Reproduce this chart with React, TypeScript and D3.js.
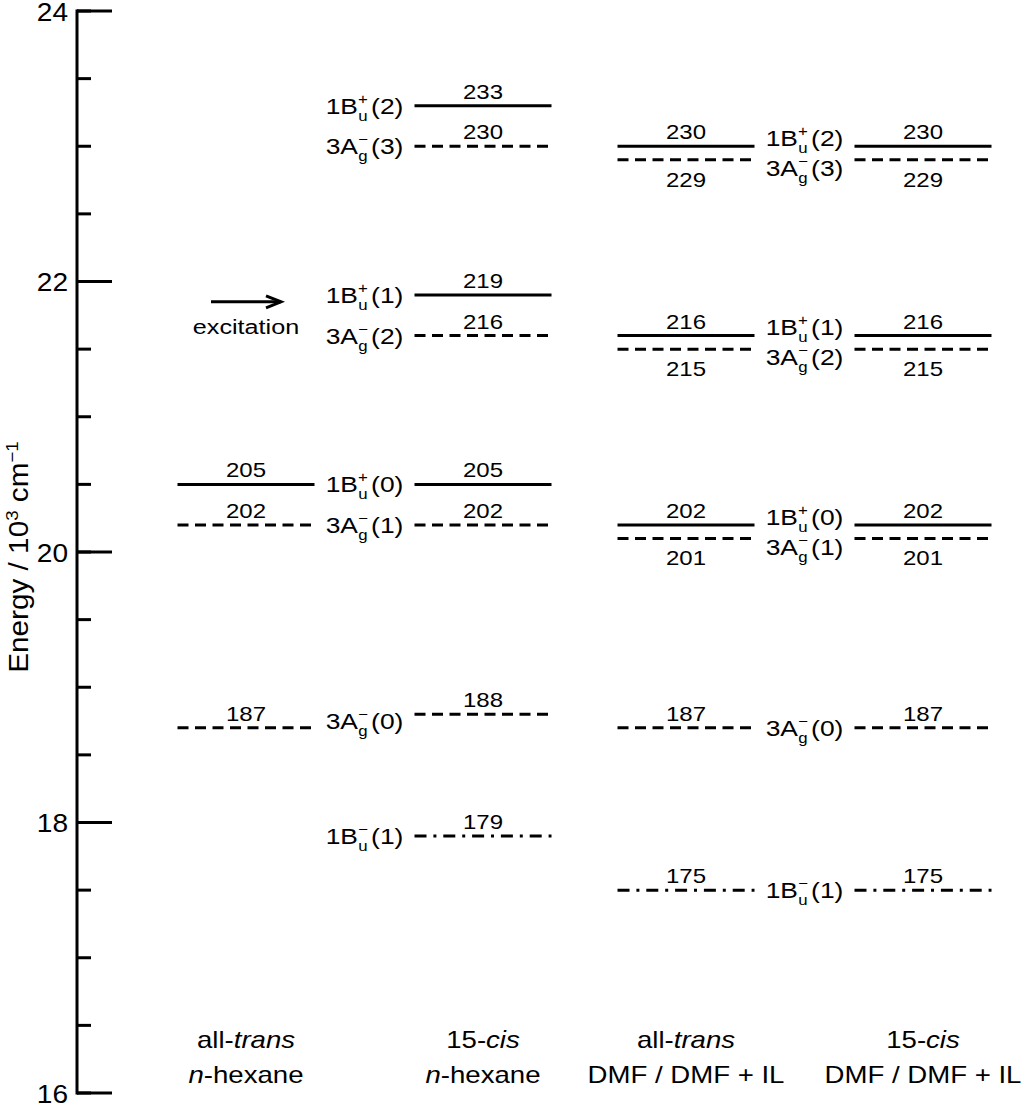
import * as d3 from "d3";

// Level energies, in units of 100 cm^-1 (the numbers printed on the levels)
const allTransHexane = [
  { term: "1Bu+", n: 0, value: 205 },
  { term: "3Ag-", n: 1, value: 202 },
  { term: "3Ag-", n: 0, value: 187 },
];
const cisHexane = [
  { term: "1Bu+", n: 2, value: 233 },
  { term: "3Ag-", n: 3, value: 230 },
  { term: "1Bu+", n: 1, value: 219 },
  { term: "3Ag-", n: 2, value: 216 },
  { term: "1Bu+", n: 0, value: 205 },
  { term: "3Ag-", n: 1, value: 202 },
  { term: "3Ag-", n: 0, value: 188 },
  { term: "1Bu-", n: 1, value: 179 },
];
const allTransDmf = [
  { term: "1Bu+", n: 2, value: 230 },
  { term: "3Ag-", n: 3, value: 229 },
  { term: "1Bu+", n: 1, value: 216 },
  { term: "3Ag-", n: 2, value: 215 },
  { term: "1Bu+", n: 0, value: 202 },
  { term: "3Ag-", n: 1, value: 201 },
  { term: "3Ag-", n: 0, value: 187 },
  { term: "1Bu-", n: 1, value: 175 },
];
const cisDmf = [
  { term: "1Bu+", n: 2, value: 230 },
  { term: "3Ag-", n: 3, value: 229 },
  { term: "1Bu+", n: 1, value: 216 },
  { term: "3Ag-", n: 2, value: 215 },
  { term: "1Bu+", n: 0, value: 202 },
  { term: "3Ag-", n: 1, value: 201 },
  { term: "3Ag-", n: 0, value: 187 },
  { term: "1Bu-", n: 1, value: 175 },
];

const columns = [allTransHexane, cisHexane, allTransDmf, cisDmf];

// [text, italic] pieces
const categoryTop: [string, boolean][][] = [
  [["all-", false], ["trans", true]],
  [["15-", false], ["cis", true]],
  [["all-", false], ["trans", true]],
  [["15-", false], ["cis", true]],
];
const categoryBottom: [string, boolean][][] = [
  [["n", true], ["-hexane", false]],
  [["n", true], ["-hexane", false]],
  [["DMF / DMF + IL", false]],
  [["DMF / DMF + IL", false]],
];

// state labels sit in the gap left of the right-hand column
const labelGaps = [
  [0, 1],
  [2, 3],
];

const excitationEnergy = 21.85;

const terms: Record<string, { num: string; sym: string; sub: string; sup: string; dash: string }> = {
  "1Bu+": { num: "1", sym: "B", sub: "u", sup: "+", dash: "none" },
  "3Ag-": { num: "3", sym: "A", sub: "g", sup: "\u2212", dash: "11 6.5" },
  "1Bu-": { num: "1", sym: "B", sub: "u", sup: "\u2212", dash: "12 6.9 3 6.9" },
};

const FONT = "'Liberation Sans', Arial, Helvetica, sans-serif";
const SX = 1.2;

const width = 1024;
const height = 1104;
const axisX = 77;
const columnCenters = [246, 483, 686, 923];
const halfLen = 68.5;

const y = d3.scaleLinear().domain([16, 24]).range([1093, 11]);
const colX = d3.scaleOrdinal<number, number>().domain([0, 1, 2, 3]).range(columnCenters);

function Pieces({ parts }: { parts: [string, boolean][] }) {
  return (
    <>
      {parts.map(([t, it], i) => (
        <tspan key={i} fontStyle={it ? "italic" : "normal"}>
          {t}
        </tspan>
      ))}
    </>
  );
}

function StateLabel({ x, yy, term, n }: { x: number; yy: number; term: string; n: number }) {
  const t = terms[term];
  return (
    <text
      transform={`translate(${x},${yy + 8}) scale(${SX},1)`}
      textAnchor="middle"
      fontSize={22}
      fontFamily={FONT}
    >
      {t.num}
      {t.sym}
      <tspan fontSize={14} dy={-10}>
        {t.sup}
      </tspan>
      <tspan fontSize={14} dx={-8} dy={17}>
        {t.sub}
      </tspan>
      <tspan dx={3} dy={-7}>
        ({n})
      </tspan>
    </text>
  );
}

export default function App() {
  const majorTicks = y.ticks(4);
  const minorTicks = y.ticks(16);

  const gapLabels = labelGaps.flatMap(([l, r]) => {
    const lx = colX(l) + halfLen;
    const rx = colX(r) - halfLen;
    const items = columns[r].map((d) => {
      const match = columns[l].find((e) => e.term === d.term && e.n === d.n);
      const ys = [y(d.value / 10)];
      if (match) ys.push(y(match.value / 10));
      return { term: d.term, n: d.n, x: (lx + rx) / 2, yy: d3.mean(ys) as number };
    });
    items.sort((a, b) => a.yy - b.yy);
    for (let i = 1; i < items.length; i++) {
      const a = items[i - 1];
      const b = items[i];
      if (b.yy - a.yy < 30) {
        const mid = (a.yy + b.yy) / 2;
        a.yy = mid - 15;
        b.yy = mid + 15;
      }
    }
    return items;
  });

  const ay = y(excitationEnergy);
  const ac = colX(0);

  return (
    <div style={{ position: "absolute", left: 0, top: 0 }}>
      <svg width={width} height={height} viewBox={`0 0 ${width} ${height}`} style={{ display: "block", background: "#fff" }}>
        {/* axis */}
        <line x1={axisX} x2={axisX} y1={y(24) - 1.5} y2={y(16) + 1.5} stroke="#000" strokeWidth={3} />
        {minorTicks.map((t) => (
          <line key={`m${t}`} x1={axisX} x2={axisX + 14} y1={y(t)} y2={y(t)} stroke="#000" strokeWidth={3} />
        ))}
        {majorTicks.map((t) => (
          <g key={`M${t}`}>
            <line x1={axisX} x2={axisX + 35} y1={y(t)} y2={y(t)} stroke="#000" strokeWidth={3} />
            <text
              transform={`translate(68,${y(t) + 9.5}) scale(1.08,1)`}
              textAnchor="end"
              fontSize={26}
              fontFamily={FONT}
            >
              {t}
            </text>
          </g>
        ))}
        <text
          transform={`translate(28,557) rotate(-90) scale(1.1,1)`}
          textAnchor="middle"
          fontSize={27}
          fontFamily={FONT}
        >
          Energy / 10
          <tspan fontSize={17} dy={-10}>
            3
          </tspan>
          <tspan dy={10}> cm</tspan>
          <tspan fontSize={17} dy={-10}>
            {"\u22121"}
          </tspan>
        </text>

        {/* levels */}
        {columns.map((col, ci) =>
          col.map((d, i) => {
            const cx = colX(ci);
            const ly = y(d.value / 10);
            const below = col.some((e) => e.value > d.value && e.value - d.value <= 1);
            return (
              <g key={`${ci}-${i}`}>
                <line
                  x1={cx - halfLen}
                  x2={cx + halfLen}
                  y1={ly}
                  y2={ly}
                  stroke="#000"
                  strokeWidth={3}
                  strokeDasharray={terms[d.term].dash}
                />
                <text
                  transform={`translate(${cx},${below ? ly + 27 : ly - 7}) scale(${SX},1)`}
                  textAnchor="middle"
                  fontSize={20}
                  fontFamily={FONT}
                >
                  {d.value}
                </text>
              </g>
            );
          })
        )}

        {gapLabels.map((g, i) => (
          <StateLabel key={`s${i}`} x={g.x} yy={g.yy} term={g.term} n={g.n} />
        ))}

        {/* excitation arrow */}
        <line x1={ac - 35} x2={ac + 35} y1={ay} y2={ay} stroke="#000" strokeWidth={3} />
        <path
          d={`M${ac + 20},${ay - 6} L${ac + 35},${ay} L${ac + 20},${ay + 6}`}
          fill="none"
          stroke="#000"
          strokeWidth={3}
        />
        <text
          transform={`translate(${ac},${ay + 32}) scale(${SX},1)`}
          textAnchor="middle"
          fontSize={21}
          fontFamily={FONT}
        >
          excitation
        </text>

        {/* column captions */}
        {columnCenters.map((_, ci) => (
          <g key={`c${ci}`}>
            <text
              transform={`translate(${colX(ci)},1048) scale(${SX},1)`}
              textAnchor="middle"
              fontSize={23}
              fontFamily={FONT}
            >
              <Pieces parts={categoryTop[ci]} />
            </text>
            <text
              transform={`translate(${colX(ci)},1083) scale(${SX},1)`}
              textAnchor="middle"
              fontSize={23}
              fontFamily={FONT}
            >
              <Pieces parts={categoryBottom[ci]} />
            </text>
          </g>
        ))}
      </svg>
    </div>
  );
}
